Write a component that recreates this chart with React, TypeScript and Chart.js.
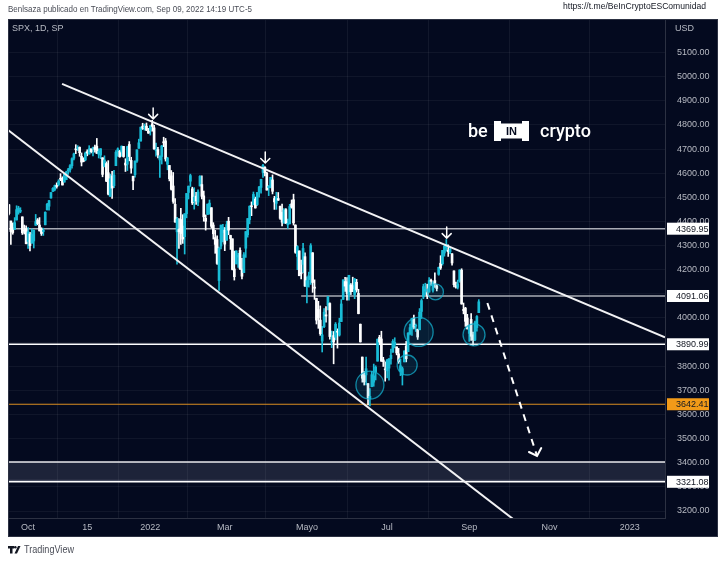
import { useEffect, useRef } from "react";
import { Chart, registerables } from "chart.js";
Chart.register(...registerables);

// Trading-day index of the first candle (Sep 17 2021); Oct 1 2021 = 0
const FIRST_BAR = -10;

const opens = [
  4469, 4402, 4374, 4367, 4406, 4438, 4442, 4419, 4363, 4370,
  4317, 4348, 4310, 4319, 4384, 4406, 4385, 4368, 4358, 4386, 4448, 4463, 4497, 4524, 4532, 4547, 4553, 4579, 4579, 4563, 4573,
  4610, 4614, 4631, 4662, 4700, 4701, 4707, 4670, 4660, 4655, 4689, 4679, 4701, 4701, 4708, 4712, 4679, 4675, 4664, 4628, 4640,
  4602, 4504, 4589, 4548, 4631, 4690, 4691, 4688, 4711, 4642, 4637, 4719, 4653, 4587, 4594, 4650, 4703, 4733, 4795, 4788, 4795, 4775,
  4778, 4804, 4788, 4693, 4698, 4655, 4669, 4728, 4734, 4637, 4632, 4589, 4547, 4471, 4357, 4367, 4408, 4381, 4337, 4432,
  4520, 4567, 4535, 4482, 4505, 4480, 4547, 4553, 4506, 4413, 4429, 4455, 4457, 4385, 4333, 4325, 4155, 4298, 4354,
  4364, 4322, 4401, 4342, 4328, 4203, 4224, 4252, 4280, 4203, 4188, 4289, 4345, 4407, 4462, 4469, 4493, 4470, 4522, 4541, 4603, 4624, 4600,
  4540, 4547, 4572, 4495, 4475, 4495, 4463, 4438, 4395, 4449, 4386, 4390, 4473, 4490, 4385, 4255, 4278, 4187, 4222, 4254,
  4130, 4159, 4181, 4270, 4128, 4081, 4035, 3991, 3904, 3964, 4013, 4053, 4060, 3900, 3927, 3920, 3943, 3929, 3985, 4077, 4151,
  4150, 4096, 4137, 4134, 4097, 4148, 4102, 3974, 3838, 3764, 3764, 3728, 3665, 3715, 3734, 3775, 3821, 3920, 3913, 3826, 3786,
  3781, 3792, 3831, 3858, 3889, 3880, 3851, 3779, 3764, 3818, 3883, 3860, 3935, 3955, 4000, 3966, 3953, 3951, 4027, 4087,
  4112, 4105, 4107, 4154, 4115, 4155, 4133, 4181, 4227, 4225, 4269, 4291, 4281, 4274, 4266, 4195, 4134, 4127, 4154, 4198, 4034, 4041, 4000,
  3936, 3994, 3930, 3909, 3960, 4022,
];
const highs = [
  4471, 4402, 4394, 4416, 4465, 4463, 4457, 4419, 4385, 4382,
  4375, 4355, 4369, 4365, 4429, 4412, 4416, 4374, 4372, 4440, 4475, 4487, 4520, 4540, 4551, 4560, 4573, 4598, 4585, 4597, 4608,
  4620, 4636, 4664, 4683, 4718, 4714, 4709, 4684, 4664, 4688, 4697, 4714, 4701, 4708, 4717, 4744, 4701, 4702, 4664, 4672, 4647,
  4652, 4596, 4608, 4612, 4694, 4705, 4695, 4713, 4711, 4660, 4712, 4731, 4666, 4588, 4651, 4697, 4741, 4791, 4807, 4804, 4808, 4786,
  4797, 4819, 4798, 4725, 4707, 4673, 4715, 4749, 4744, 4666, 4632, 4611, 4603, 4495, 4417, 4412, 4454, 4428, 4432, 4516,
  4547, 4596, 4542, 4540, 4521, 4531, 4590, 4589, 4526, 4427, 4472, 4489, 4457, 4395, 4363, 4340, 4295, 4385, 4388,
  4375, 4401, 4417, 4343, 4328, 4277, 4277, 4268, 4291, 4247, 4271, 4358, 4412, 4465, 4481, 4522, 4501, 4520, 4546, 4575, 4637, 4627, 4604,
  4549, 4583, 4593, 4504, 4521, 4520, 4464, 4472, 4453, 4453, 4410, 4471, 4489, 4513, 4386, 4300, 4278, 4240, 4309, 4270,
  4170, 4190, 4308, 4271, 4158, 4082, 4069, 4050, 3965, 4039, 4047, 4090, 4063, 3946, 3944, 3981, 3955, 3999, 4076, 4158, 4168,
  4167, 4177, 4143, 4169, 4164, 4160, 4119, 3975, 3838, 3778, 3838, 3728, 3707, 3779, 3809, 3802, 3913, 3928, 3945, 3837, 3818,
  3829, 3832, 3871, 3910, 3918, 3880, 3874, 3829, 3797, 3864, 3903, 3939, 3975, 3999, 4012, 3975, 3954, 4039, 4079, 4140,
  4144, 4140, 4167, 4161, 4151, 4187, 4138, 4211, 4258, 4280, 4301, 4325, 4303, 4292, 4267, 4195, 4149, 4157, 4200, 4204, 4062, 4044, 4015,
  3970, 4018, 3942, 3987, 4010, 4076,
];
const lows = [
  4427, 4305, 4347, 4367, 4406, 4430, 4436, 4346, 4348, 4307,
  4288, 4278, 4310, 4290, 4384, 4386, 4360, 4342, 4342, 4386, 4448, 4447, 4496, 4524, 4527, 4538, 4547, 4569, 4551, 4563, 4573,
  4595, 4604, 4621, 4655, 4681, 4694, 4670, 4630, 4647, 4651, 4672, 4679, 4684, 4672, 4687, 4682, 4663, 4660, 4585, 4626, 4565,
  4510, 4504, 4495, 4540, 4631, 4670, 4666, 4670, 4666, 4607, 4611, 4651, 4600, 4532, 4583, 4645, 4703, 4733, 4781, 4778, 4776, 4765,
  4758, 4774, 4699, 4671, 4663, 4582, 4638, 4710, 4650, 4614, 4568, 4530, 4475, 4396, 4223, 4288, 4305, 4309, 4265, 4415,
  4493, 4545, 4470, 4451, 4471, 4465, 4547, 4493, 4401, 4364, 4429, 4430, 4373, 4327, 4268, 4222, 4114, 4286, 4315,
  4279, 4322, 4345, 4284, 4199, 4157, 4224, 4209, 4200, 4162, 4188, 4251, 4335, 4390, 4424, 4469, 4455, 4466, 4501, 4517, 4582, 4589, 4530,
  4507, 4539, 4514, 4450, 4450, 4487, 4408, 4381, 4392, 4392, 4371, 4390, 4455, 4385, 4268, 4200, 4175, 4162, 4188, 4131,
  4062, 4128, 4139, 4106, 4077, 3975, 3957, 3928, 3859, 3960, 3983, 4033, 3912, 3877, 3810, 3909, 3875, 3925, 3985, 4077, 4110,
  4074, 4074, 4097, 4109, 4080, 4107, 4017, 3900, 3734, 3722, 3723, 3640, 3636, 3715, 3717, 3743, 3821, 3889, 3820, 3799, 3738,
  3752, 3742, 3809, 3858, 3876, 3847, 3812, 3761, 3722, 3818, 3818, 3860, 3930, 3928, 3955, 3944, 3911, 3951, 3998, 4080,
  4097, 4080, 4107, 4135, 4107, 4127, 4112, 4177, 4201, 4219, 4256, 4277, 4255, 4266, 4219, 4129, 4124, 4120, 4148, 4057, 4017, 3965, 3954,
  3903, 3907, 3886, 3906, 3945, 4022,
];
const closes = [
  4433, 4358, 4354, 4395, 4449, 4455, 4443, 4353, 4360, 4308,
  4357, 4300, 4346, 4363, 4399, 4391, 4361, 4350, 4364, 4438, 4471, 4486, 4520, 4537, 4549, 4545, 4567, 4575, 4551, 4596, 4605,
  4614, 4631, 4660, 4680, 4697, 4702, 4685, 4646, 4649, 4683, 4683, 4701, 4689, 4704, 4698, 4682, 4691, 4701, 4595, 4655, 4567,
  4513, 4577, 4538, 4592, 4687, 4701, 4668, 4712, 4669, 4634, 4710, 4669, 4621, 4568, 4650, 4697, 4726, 4791, 4786, 4793, 4778, 4766,
  4797, 4794, 4701, 4696, 4677, 4670, 4713, 4726, 4659, 4663, 4577, 4533, 4483, 4398, 4410, 4357, 4350, 4327, 4432, 4516,
  4546, 4590, 4477, 4501, 4484, 4522, 4587, 4504, 4419, 4401, 4472, 4476, 4380, 4349, 4305, 4226, 4288, 4385, 4374,
  4306, 4387, 4364, 4329, 4201, 4171, 4278, 4260, 4204, 4173, 4262, 4358, 4412, 4463, 4461, 4512, 4456, 4520, 4543, 4575, 4632, 4602, 4530,
  4546, 4583, 4525, 4481, 4500, 4488, 4413, 4397, 4447, 4392, 4392, 4462, 4459, 4394, 4272, 4296, 4175, 4183, 4288, 4132,
  4155, 4175, 4300, 4147, 4123, 3991, 4001, 3935, 3930, 4024, 4008, 4088, 3923, 3901, 3901, 3974, 3941, 3979, 4058, 4158, 4132,
  4101, 4177, 4109, 4121, 4161, 4116, 4018, 3901, 3750, 3735, 3790, 3667, 3675, 3765, 3760, 3796, 3912, 3900, 3821, 3819, 3785,
  3825, 3831, 3845, 3903, 3899, 3855, 3819, 3802, 3790, 3863, 3831, 3937, 3960, 3999, 3962, 3967, 3921, 4024, 4072, 4130,
  4119, 4091, 4155, 4152, 4145, 4140, 4122, 4210, 4207, 4280, 4297, 4305, 4275, 4284, 4228, 4138, 4128, 4141, 4199, 4058, 4031, 3986, 3955,
  3967, 3924, 3909, 3980, 4006, 4067,
];

const xTickValues = [0, 31, 64, 103, 146, 188, 231, 273, 315];
const xTickLabels = ["Oct", "15", "2022", "Mar", "Mayo", "Jul", "Sep", "Nov", "2023"];
const yTickValues = [3200, 3300, 3400, 3500, 3600, 3700, 3800, 3900, 4000, 4100, 4200, 4300, 4400, 4500, 4600, 4700, 4800, 4900, 5000, 5100];
const X_MIN = -10.5;
const X_MAX = 333.5;
const Y_MIN = 3171;
const Y_MAX = 5239;

// horizontal levels and where each one starts (trading-day index)
const levelValues = [4369.95, 4091.06, 3890.99, 3642.41, 3321.08];
const levelStarts = [X_MIN, 143, X_MIN, X_MIN, X_MIN];
const levelColors = ["#a9acb5", "#a9acb5", "#ffffff", "#d98e22", "#ffffff"];
const levelBoxColors = ["#ffffff", "#ffffff", "#ffffff", "#f29a18", "#ffffff"];
const zoneRange = [3327, 3403];

// trendlines [x = trading-day index, y = price]
const upperTrend = [{ x: 17.8, y: 4970 }, { x: 333.5, y: 3920 }];
const lowerTrend = [{ x: -10.5, y: 4779 }, { x: 260, y: 3130 }];
const projection = [{ x: 240.5, y: 4062 }, { x: 266.5, y: 3428 }];

// circles and peak arrows
const circleCenters = [
  { x: 179, y: 3722 },
  { x: 198.5, y: 3805 },
  { x: 204.5, y: 3942 },
  { x: 213.3, y: 4108 },
  { x: 233.5, y: 3930 },
];
const circleRadii = [14, 10, 14.5, 8, 11];
const arrowTips = [
  { x: 65.5, y: 4825 },
  { x: 124.2, y: 4642 },
  { x: 219.2, y: 4331 },
];

const FONT = "'Liberation Sans', Arial, sans-serif";
const BG = "#040a1f";
const AXIS_TEXT = "#b7bac3";

export default function App() {
  const ref = useRef<HTMLCanvasElement>(null);

  useEffect(() => {
    const canvas = ref.current;
    if (!canvas) return;
    const xs = closes.map((_, i) => i + FIRST_BAR);
    const colors = closes.map((c, i) => (c >= opens[i] ? "#19bcd6" : "#ffffff"));
    const wickData = xs.map((x, i) => ({
      x,
      y: [Math.min(lows[i], opens[i], closes[i]), Math.max(highs[i], opens[i], closes[i])],
    }));
    const bodyData = xs.map((x, i) => ({ x, y: [opens[i], closes[i]] }));

    const levelSets = levelValues.map((v, i) => ({
      type: "line" as const,
      data: [{ x: levelStarts[i], y: v }, { x: X_MAX, y: v }],
      borderColor: levelColors[i],
      borderWidth: i === 3 ? 1.2 : 1.5,
      pointRadius: 0,
      fill: false,
      order: 6,
    }));

    const decor = {
      id: "tvDecor",
      beforeDraw(chart: any) {
        const ctx = chart.ctx;
        ctx.save();
        ctx.fillStyle = "#ffffff";
        ctx.fillRect(0, 0, 720, 564);
        ctx.fillStyle = BG;
        ctx.fillRect(8, 19, 710, 518);
        // header text above the panel
        ctx.font = `9px ${FONT}`;
        ctx.textBaseline = "middle";
        ctx.fillStyle = "#4a4d57";
        ctx.textAlign = "left";
        ctx.fillText("Benlsaza publicado en TradingView.com, Sep 09, 2022 14:19 UTC-5", 8, 10, 244);
        ctx.fillStyle = "#131722";
        ctx.textAlign = "right";
        ctx.fillText("https://t.me/BeInCryptoESComunidad", 706, 7, 143);
        ctx.restore();
      },
      beforeDatasetsDraw(chart: any) {
        const { ctx, chartArea, scales } = chart;
        const y = scales.y;
        const top = y.getPixelForValue(zoneRange[1]);
        const bot = y.getPixelForValue(zoneRange[0]);
        ctx.save();
        ctx.fillStyle = "rgba(120,126,150,0.22)";
        ctx.fillRect(chartArea.left, top, chartArea.right - chartArea.left, bot - top);
        ctx.strokeStyle = "rgba(140,145,165,0.6)";
        ctx.lineWidth = 1;
        ctx.beginPath();
        ctx.moveTo(chartArea.left, bot);
        ctx.lineTo(chartArea.right, bot);
        ctx.stroke();
        ctx.strokeStyle = "#e8e8ec";
        ctx.lineWidth = 1.5;
        ctx.beginPath();
        ctx.moveTo(chartArea.left, top);
        ctx.lineTo(chartArea.right, top);
        ctx.stroke();

        // watermark logo
        ctx.fillStyle = "#ffffff";
        ctx.font = `500 18px Roboto, ${FONT}`;
        ctx.textBaseline = "alphabetic";
        ctx.textAlign = "left";
        ctx.fillText("be", 468, 137);
        ctx.fillText("crypto", 540, 137, 55);
        ctx.fillRect(494, 121, 35, 20);
        ctx.fillStyle = BG;
        ctx.fillRect(501, 121, 21, 2.5);
        ctx.fillRect(501, 138.5, 21, 2.5);
        ctx.font = `bold 11px ${FONT}`;
        ctx.textAlign = "center";
        ctx.textBaseline = "middle";
        ctx.fillText("IN", 511.5, 131.5);
        ctx.restore();
      },
      afterDatasetsDraw(chart: any) {
        const { ctx, scales, chartArea } = chart;
        ctx.save();
        ctx.beginPath();
        ctx.rect(chartArea.left, chartArea.top, chartArea.right - chartArea.left, chartArea.bottom - chartArea.top);
        ctx.clip();
        ctx.strokeStyle = "#ffffff";
        ctx.lineWidth = 1.5;
        ctx.lineCap = "round";
        arrowTips.forEach((p) => {
          const px = scales.x.getPixelForValue(p.x);
          const py = scales.y.getPixelForValue(p.y);
          ctx.beginPath();
          ctx.moveTo(px, py - 11);
          ctx.lineTo(px, py);
          ctx.moveTo(px - 4.5, py - 4.5);
          ctx.lineTo(px, py);
          ctx.lineTo(px + 4.5, py - 4.5);
          ctx.stroke();
        });
        // arrowhead of projection
        const a = projection[0];
        const b = projection[1];
        const ax = scales.x.getPixelForValue(a.x);
        const ay = scales.y.getPixelForValue(a.y);
        const bx = scales.x.getPixelForValue(b.x);
        const by = scales.y.getPixelForValue(b.y);
        const ang = Math.atan2(ay - by, ax - bx);
        const len = 9;
        ctx.lineWidth = 2;
        ctx.beginPath();
        ctx.moveTo(bx + len * Math.cos(ang - 0.8), by + len * Math.sin(ang - 0.8));
        ctx.lineTo(bx, by);
        ctx.lineTo(bx + len * Math.cos(ang + 0.8), by + len * Math.sin(ang + 0.8));
        ctx.stroke();
        ctx.restore();
      },
      afterDraw(chart: any) {
        const { ctx, scales } = chart;
        ctx.save();
        ctx.font = `9px ${FONT}`;
        ctx.textBaseline = "middle";
        // price boxes
        levelValues.forEach((v, i) => {
          const py = scales.y.getPixelForValue(v);
          ctx.fillStyle = levelBoxColors[i];
          ctx.fillRect(667, py - 6, 42, 12);
          ctx.fillStyle = "#131722";
          ctx.textAlign = "left";
          ctx.fillText(v.toFixed(2), 676, py + 0.5);
        });
        // legend overlay
        ctx.fillStyle = AXIS_TEXT;
        ctx.textAlign = "left";
        ctx.fillText("SPX, 1D, SP", 12, 29);
        ctx.fillText("USD", 675, 29);
        // panel border
        ctx.strokeStyle = "#2c3142";
        ctx.lineWidth = 1;
        ctx.strokeRect(8.5, 19.5, 709, 517);
        // footer
        ctx.fillStyle = "#131722";
        ctx.fillRect(8, 546, 6, 2.5);
        ctx.fillRect(10, 546, 2.5, 7.5);
        ctx.beginPath();
        ctx.moveTo(14.5, 553.5);
        ctx.lineTo(18, 546);
        ctx.lineTo(20.5, 546);
        ctx.lineTo(17, 553.5);
        ctx.closePath();
        ctx.fill();
        ctx.beginPath();
        ctx.arc(15.3, 547.3, 1.3, 0, Math.PI * 2);
        ctx.fill();
        ctx.fillStyle = "#4a4d57";
        ctx.font = `10px ${FONT}`;
        ctx.fillText("TradingView", 24, 550, 50);
        ctx.restore();
      },
    };

    const chart = new Chart(canvas, {
      type: "bar",
      data: {
        datasets: [
          ...levelSets,
          {
            type: "bar",
            data: wickData as any,
            backgroundColor: colors,
            barThickness: 1,
            grouped: false,
            order: 4,
          },
          {
            type: "bar",
            data: bodyData as any,
            backgroundColor: colors,
            barThickness: 2,
            minBarLength: 1,
            grouped: false,
            order: 3,
          },
          {
            type: "line",
            data: upperTrend,
            borderColor: "#f2f2f4",
            borderWidth: 2,
            pointRadius: 0,
            fill: false,
            order: 2,
          },
          {
            type: "line",
            data: lowerTrend,
            borderColor: "#f2f2f4",
            borderWidth: 2,
            pointRadius: 0,
            fill: false,
            order: 2,
          },
          {
            type: "line",
            data: projection,
            borderColor: "#ffffff",
            borderWidth: 2,
            borderDash: [7, 6],
            pointRadius: 0,
            fill: false,
            order: 2,
          },
          {
            type: "bubble",
            data: circleCenters.map((c, i) => ({ x: c.x, y: c.y, r: circleRadii[i] })),
            backgroundColor: "rgba(20,170,200,0.13)",
            borderColor: "rgba(20,175,205,0.75)",
            borderWidth: 1.3,
            order: 1,
          },
        ] as any,
      },
      options: {
        responsive: false,
        animation: false,
        events: [],
        layout: { autoPadding: false, padding: { left: 8, top: 19, right: 2, bottom: 27 } },
        plugins: { legend: { display: false }, tooltip: { enabled: false } },
        scales: {
          x: {
            type: "linear",
            min: X_MIN,
            max: X_MAX,
            offset: false,
            grid: { color: "rgba(255,255,255,0.06)", drawTicks: false },
            border: { display: true, color: "#2c3142" },
            afterBuildTicks: (scale: any) => {
              scale.ticks = xTickValues.map((v) => ({ value: v }));
            },
            afterFit: (scale: any) => {
              scale.height = 19;
              scale.paddingLeft = 0;
              scale.paddingRight = 0;
            },
            ticks: {
              autoSkip: false,
              maxRotation: 0,
              padding: 4,
              color: AXIS_TEXT,
              font: { family: FONT, size: 9 },
              callback: (_v: any, i: number) => xTickLabels[i],
            },
          },
          y: {
            type: "linear",
            position: "right",
            min: Y_MIN,
            max: Y_MAX,
            grid: { color: "rgba(255,255,255,0.05)", drawTicks: false },
            border: { display: true, color: "#2c3142" },
            afterBuildTicks: (scale: any) => {
              scale.ticks = yTickValues.map((v) => ({ value: v }));
            },
            afterFit: (scale: any) => {
              scale.width = 53;
              scale.paddingTop = 0;
              scale.paddingBottom = 0;
            },
            ticks: {
              padding: 12,
              color: AXIS_TEXT,
              font: { family: FONT, size: 9 },
              callback: (v: any) => Number(v).toFixed(2),
            },
          },
        },
      } as any,
      plugins: [decor],
    });
    return () => chart.destroy();
  }, []);

  return (
    <div style={{ position: "fixed", left: 0, top: 0, width: 720, height: 564, background: "#ffffff" }}>
      <canvas ref={ref} width={720} height={564} style={{ display: "block", width: 720, height: 564 }} />
    </div>
  );
}
